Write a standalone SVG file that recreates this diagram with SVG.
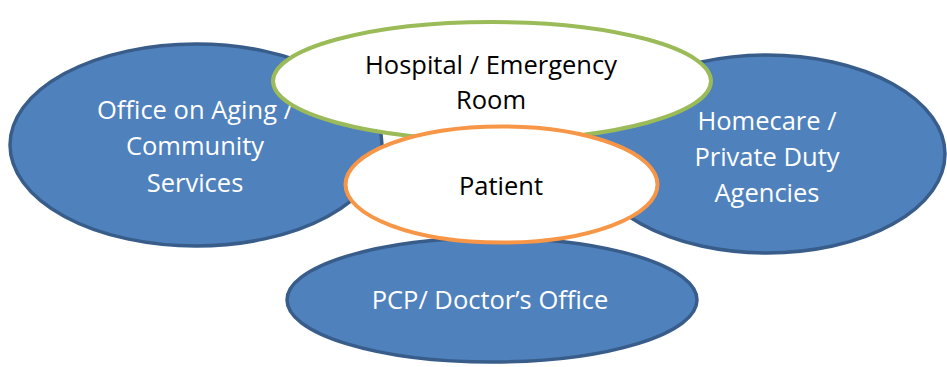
<svg xmlns="http://www.w3.org/2000/svg" width="947" height="367" viewBox="0 0 947 367">
  <style>
    .blue { fill: #4F81BD; stroke: #385D8A; stroke-width: 3.5; }
    .white { fill: #FFFFFF; stroke-width: 4; }
    .lt { font-family: "Open Sans", "Liberation Sans", sans-serif; font-size: 25.5px; fill: #FFFFFF; text-anchor: middle; }
    .dk { font-family: "Open Sans", "Liberation Sans", sans-serif; font-size: 25.5px; fill: #000000; text-anchor: middle; }
  </style>
  <rect width="947" height="367" fill="#FFFFFF"/>
  <g id="office-on-aging">
    <ellipse class="blue" cx="196" cy="145" rx="186" ry="101"/>
    <text class="lt" x="195" y="119">Office on Aging /</text>
    <text class="lt" x="195" y="155">Community</text>
    <text class="lt" x="195" y="192">Services</text>
  </g>
  <g id="homecare">
    <ellipse class="blue" cx="767" cy="154" rx="178" ry="99"/>
    <text class="lt" x="767" y="130">Homecare /</text>
    <text class="lt" x="767" y="166">Private Duty</text>
    <text class="lt" x="767" y="202">Agencies</text>
  </g>
  <g id="pcp">
    <ellipse class="blue" cx="492" cy="300" rx="205" ry="62"/>
    <text class="lt" x="490" y="309">PCP/ Doctor’s Office</text>
  </g>
  <g id="hospital">
    <ellipse class="white" stroke="#9BBB59" cx="492" cy="81" rx="219" ry="59"/>
    <text class="dk" x="491" y="74">Hospital / Emergency</text>
    <text class="dk" x="491" y="109">Room</text>
  </g>
  <g id="patient">
    <ellipse class="white" stroke="#F79646" cx="501.5" cy="184.5" rx="156" ry="58"/>
    <text class="dk" x="501" y="195">Patient</text>
  </g>
  <g id="connectors"/>
</svg>
